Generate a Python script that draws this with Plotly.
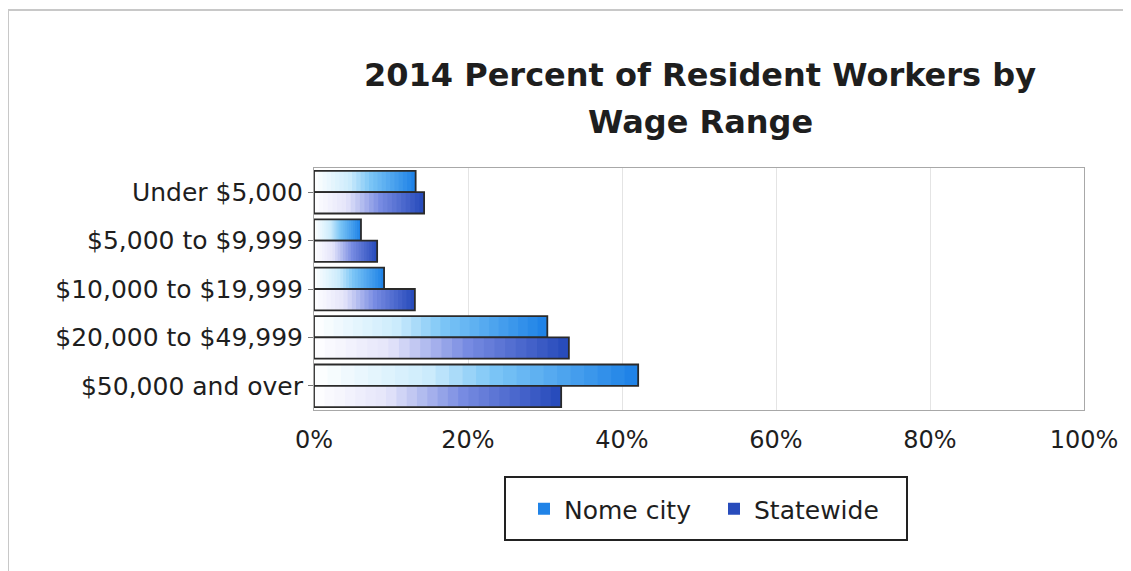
import plotly.graph_objects as go

categories = ["Under $5,000", "$5,000 to $9,999", "$10,000 to $19,999",
              "$20,000 to $49,999", "$50,000 and over"]
nome_city = [13.2, 6.1, 9.1, 30.3, 42.1]
statewide = [14.3, 8.2, 13.1, 33.1, 32.1]
x_tick_vals = [0, 20, 40, 60, 80, 100]
x_tick_text = ["0%", "20%", "40%", "60%", "80%", "100%"]

series = [
    ("Nome city", nome_city, "nome",
     [(0.0, (255, 255, 255)), (0.35, (205, 236, 252)), (0.55, (125, 198, 246)), (1.0, (28, 128, 230))]),
    ("Statewide", statewide, "state",
     [(0.0, (255, 255, 255)), (0.3, (228, 228, 250)), (0.6, (120, 140, 226)), (1.0, (36, 72, 186))]),
]


def interp(stops, t):
    for (t0, c0), (t1, c1) in zip(stops[:-1], stops[1:]):
        if t <= t1:
            u = (t - t0) / (t1 - t0) if t1 > t0 else 0
            return "rgb(%d,%d,%d)" % tuple(round(a + (b - a) * u) for a, b in zip(c0, c1))
    return "rgb(%d,%d,%d)" % stops[-1][1]


# page is offset by an 8px body margin; geometry below is in window pixels
OFF = 8
W, H = 1131 - OFF, 571 - OFF
PL, PR, PT, PB = 314, 1084, 168, 410   # plot area in window pixels
PW, PH = PR - PL, PB - PT


def px(x):
    return (x - PL) / PW


def py(y):
    return (PB - y) / PH


N_LAYERS = 24
fig = go.Figure()
for name, vals, grp, stops in series:
    for k in range(N_LAYERS):
        f = 1 - k / N_LAYERS
        fig.add_trace(go.Bar(
            y=categories, x=[v * f for v in vals], orientation="h",
            offsetgroup=grp, name=name, legendgroup=grp,
            showlegend=(k == 0), hoverinfo="skip",
            marker=dict(color=interp(stops, f - 0.5 / N_LAYERS), line=dict(width=0)),
        ))
    fig.add_trace(go.Bar(
        y=categories, x=vals, orientation="h", offsetgroup=grp, name=name,
        legendgroup=grp, showlegend=False,
        marker=dict(color="rgba(0,0,0,0)", line=dict(color="#2a2a2a", width=1.8)),
    ))

fig.update_layout(
    width=W, height=H,
    margin=dict(l=PL - OFF, r=W - (PR - OFF), t=PT - OFF, b=H - (PB - OFF)),
    paper_bgcolor="white", plot_bgcolor="white",
    barmode="group", bargap=0.12, bargroupgap=0.0,
    font=dict(family="DejaVu Sans", color="#1e1e1e", size=25),
    xaxis=dict(range=[0, 100], tickvals=x_tick_vals, ticktext=x_tick_text,
               showgrid=True, gridcolor="#e4e4e4", gridwidth=1, zeroline=False,
               showline=True, linecolor="#a8a8a8", mirror=True, ticks="",
               ticklabelstandoff=8, tickfont=dict(size=24), fixedrange=True),
    yaxis=dict(autorange="reversed", showgrid=False, showline=True, linecolor="#a8a8a8",
               mirror=True, ticks="outside", ticklen=5, tickcolor="#777777",
               tickfont=dict(size=25), fixedrange=True),
    legend=dict(orientation="h", x=px(524), xanchor="left", y=py(486), yanchor="top",
                borderwidth=0, bgcolor="rgba(0,0,0,0)", entrywidth=145,
                font=dict(size=25), traceorder="normal"),
    showlegend=True,
    annotations=[
        dict(text="<b>2014 Percent of Resident Workers by</b>", xref="paper", yref="paper",
             x=px(700), y=py(75), xanchor="center", yanchor="middle",
             showarrow=False, font=dict(size=32, color="#1e1e1e")),
        dict(text="<b>Wage Range</b>", xref="paper", yref="paper",
             x=px(700), y=py(122), xanchor="center", yanchor="middle",
             showarrow=False, font=dict(size=32, color="#1e1e1e")),
    ],
    shapes=[
        dict(type="rect", xref="paper", yref="paper",
             x0=px(8), x1=px(1145), y0=py(590), y1=py(10),
             line=dict(color="#c8c8c8", width=2), fillcolor="rgba(0,0,0,0)", layer="below"),
        dict(type="rect", xref="paper", yref="paper",
             x0=px(505), x1=px(907), y0=py(540), y1=py(477),
             line=dict(color="#222222", width=2), fillcolor="rgba(0,0,0,0)", layer="below"),
    ],
)

fig.write_html("out.html")
